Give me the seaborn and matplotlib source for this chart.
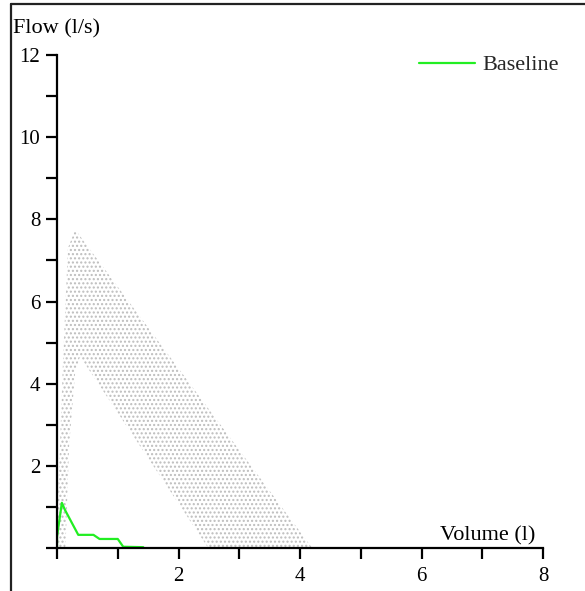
import matplotlib
matplotlib.use("Agg")
import matplotlib.pyplot as plt
import seaborn as sns
import numpy as np
from matplotlib.lines import Line2D

# ---- data ----
baseline_volume = [0.0, 0.0, 0.08, 0.13, 0.35, 0.6, 0.7, 1.0, 1.09, 1.42]
baseline_flow   = [0.0, 0.27, 1.1, 0.93, 0.32, 0.32, 0.22, 0.22, 0.03, 0.02]

# predicted normal range (upper and lower boundary curves)
upper_volume = [0.0, 0.02, 0.1, 0.18, 0.3, 4.2]
upper_flow   = [0.0, 1.3, 4.6, 7.3, 7.75, 0.0]
lower_volume = [0.14, 0.2, 0.3, 0.38, 2.49]
lower_flow   = [0.0, 2.5, 4.3, 4.66, 0.0]

x_ticks = [0, 1, 2, 3, 4, 5, 6, 7, 8]
x_ticklabels = ["", "", "2", "", "4", "", "6", "", "8"]
y_ticks = [0, 1, 2, 3, 4, 5, 6, 7, 8, 9, 10, 11, 12]
y_ticklabels = ["", "", "2", "", "4", "", "6", "", "8", "", "10", "", "12"]

series_label = "Baseline"
x_label = "Volume (l)"
y_label = "Flow (l/s)"

# ---- style ----
sns.set_theme(style="white")
plt.rcParams["font.family"] = ["Liberation Serif", "DejaVu Serif"]

W, H = 585, 591
fig = plt.figure(figsize=(W / 100, H / 100), dpi=100)
ax = fig.add_axes([57 / W, 1 - 548 / H, 486 / W, 493 / H])

# normal-range band
poly_x = upper_volume + lower_volume[::-1]
poly_y = upper_flow + lower_flow[::-1]
band = ax.fill(poly_x, poly_y, facecolor="none", edgecolor="#bdbdbd",
               hatch="....", linewidth=0, zorder=1)[0]

sns.lineplot(x=baseline_volume, y=baseline_flow, ax=ax, color="#22ee22",
             linewidth=1.6, sort=False, estimator=None, zorder=3)

ax.set_xlim(0, 8)
ax.set_ylim(0, 12)
ax.set_xticks(x_ticks)
ax.set_xticklabels(x_ticklabels)
ax.set_yticks(y_ticks)
ax.set_yticklabels(y_ticklabels)
ax.tick_params(axis="both", which="major", bottom=True, left=True,
               direction="out", length=8, width=1.6,
               color="black", labelsize=15, labelcolor="black")
ax.tick_params(axis="x", pad=6)
ax.tick_params(axis="y", pad=4)
ax.set_xlabel("")
ax.set_ylabel("")
for s in ["top", "right"]:
    ax.spines[s].set_visible(False)
for s in ["left", "bottom"]:
    ax.spines[s].set_color("black")
    ax.spines[s].set_linewidth(1.6)
    ax.spines[s].set_zorder(4)
ax.set_facecolor("white")
ax.grid(False)

# axis titles
fig.text(13 / W, 1 - 29 / H, y_label, ha="left", va="center", fontsize=16,
         color="black")
ax.text(535 / W, 1 - 536 / H, x_label, ha="right", va="center", fontsize=16,
        color="black", transform=fig.transFigure)

# legend
handle = Line2D([0], [0], color="#22ee22", linewidth=1.6)
fig.legend([handle], [series_label], loc="center right",
           bbox_to_anchor=(568 / W, 1 - 65 / H), frameon=False, fontsize=16,
           handlelength=2.5, handletextpad=0.35, borderaxespad=0)

# outer frame (top and left)
fig.add_artist(Line2D([10.5 / W, 10.5 / W], [0, 1 - 4 / H], color="#222222",
                      linewidth=1.6, transform=fig.transFigure))
fig.add_artist(Line2D([10.5 / W, 1], [1 - 4 / H, 1 - 4 / H], color="#222222",
                      linewidth=1.6, transform=fig.transFigure))

fig.savefig("out.png", dpi=100)
